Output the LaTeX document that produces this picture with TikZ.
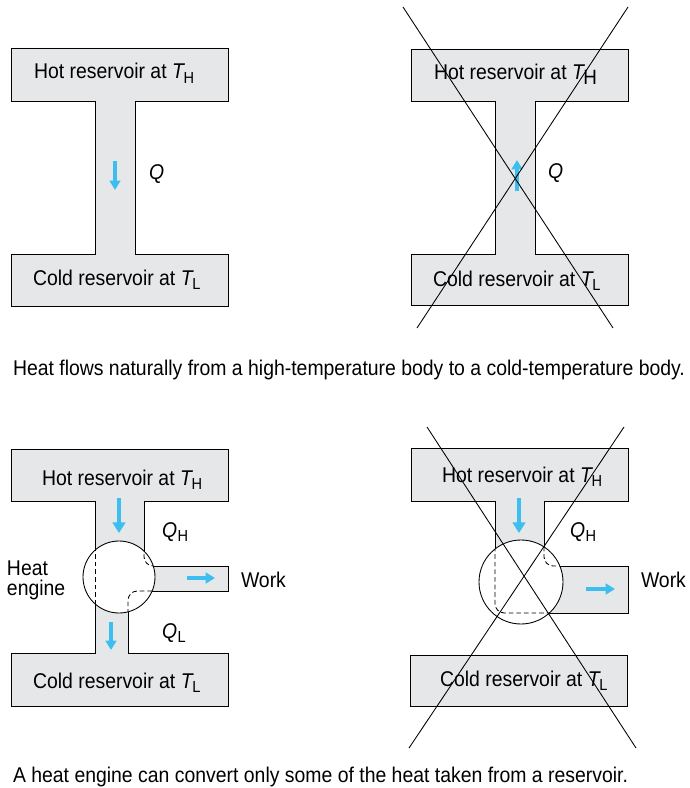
\documentclass[tikz,border=0pt]{standalone}
\usepackage{fontspec}
\setmainfont{Liberation Sans}[FakeStretch=0.91]
\usetikzlibrary{arrows.meta}
\definecolor{resgray}{RGB}{230,231,232}
\definecolor{flowblue}{RGB}{60,190,240}
% lowered subscript in upright type
\newcommand\lowsub[2][12pt]{\raisebox{-3.6pt}{\fontsize{#1}{#1}\selectfont #2}}
\newcommand\tsym[1]{{\itshape T}\kern-0.3pt\lowsub{#1}}
\newcommand\qsym[1]{{\itshape Q}\kern0.3pt\lowsub{#1}}

\begin{document}
\begin{tikzpicture}[x=0.75pt,y=-0.75pt,
  every node/.style={font=\fontsize{16pt}{19pt}\selectfont, inner sep=0pt, outer sep=0pt},
  label/.style={anchor=base west},
  tank/.style={fill=resgray, draw=black, line width=0.65pt, line join=miter},
  flow/.style={draw=flowblue, line width=3.2pt, -{Triangle[width=9.5pt,length=8pt]}},
  wflow/.style={draw=flowblue, line width=2.6pt, -{Triangle[width=8pt,length=7pt]}},
  cross/.style={draw=black, line width=0.65pt},
  engine/.style={draw=black, fill=white, line width=0.65pt},
  hidden/.style={draw=black, dash pattern=on 3.5pt off 2.2pt, line width=0.65pt, rounded corners=7pt}]
\useasboundingbox (0,0) rectangle (689,788);

% ---------- reservoirs joined by a channel ----------
\draw[tank] (11,48) -- (228,48) -- (228,101) -- (135,101) -- (135,254) -- (228,254)
  -- (228,306) -- (11,306) -- (11,254) -- (95,254) -- (95,101) -- (11,101) -- cycle;
\draw[tank] (411,49) -- (628,49) -- (628,101) -- (535,101) -- (535,254) -- (628,254)
  -- (628,305) -- (411,305) -- (411,254) -- (495,254) -- (495,101) -- (411,101) -- cycle;

% ---------- engine between the reservoirs ----------
\draw[tank] (11,449) -- (228,449) -- (228,501) -- (144,501) -- (144,566) -- (228,566)
  -- (228,591) -- (128,591) -- (128,653) -- (228,653) -- (228,706) -- (11,706)
  -- (11,653) -- (95,653) -- (95,501) -- (11,501) -- cycle;
\node[engine, circle, minimum size=54pt] (eng1) at (119,577) {};
\begin{scope}
  \clip (119,577) circle[radius=27pt];
  \draw[hidden] (95,501) -- (95,653);
  \draw[hidden] (144,501) -- (144,566) -- (228,566);
  \draw[hidden] (228,591) -- (128,591) -- (128,653);
\end{scope}

\draw[tank] (411,448) -- (628,448) -- (628,501) -- (544,501) -- (544,566) -- (628,566)
  -- (628,613) -- (495,613) -- (495,501) -- (411,501) -- cycle;
\draw[tank] (410,655) rectangle (627,706);
\node[engine, circle, minimum size=63pt] (eng2) at (521,582) {};
\begin{scope}
  \clip (521,582) circle[radius=31.5pt];
  \draw[hidden] (495,501) -- (495,613) -- (628,613);
  \draw[hidden] (544,501) -- (544,566) -- (628,566);
\end{scope}

% ---------- heat and work arrows ----------
\coordinate (a1s) at (115,161); \coordinate (a1e) at (115,190);
\coordinate (a2s) at (517,191); \coordinate (a2e) at (517,160);
\coordinate (a3s) at (119,498); \coordinate (a3e) at (119,533);
\coordinate (a4s) at (111,622); \coordinate (a4e) at (111,650);
\coordinate (a5s) at (187,578); \coordinate (a5e) at (215,578);
\coordinate (a6s) at (519,498); \coordinate (a6e) at (519,533);
\coordinate (a7s) at (586,589); \coordinate (a7e) at (615,589);
\draw[wflow] (a1s) -- (a1e);
\draw[wflow] (a2s) -- (a2e);
\draw[flow] (a3s) -- (a3e);
\draw[wflow] (a4s) -- (a4e);
\draw[wflow] (a5s) -- (a5e);
\draw[flow] (a6s) -- (a6e);
\draw[wflow] (a7s) -- (a7e);

% ---------- labels ----------
\node[label] (hot1) at (34,79) {Hot reservoir at \tsym{H}};
\node[label] (cold1) at (33,285) {Cold reservoir at \tsym{L}};
\node[label] (q1) at (149,180) {\itshape Q};

\node[label] (hot2) at (434,80) {Hot reservoir at {\itshape T}\kern-0.5pt\lowsub[15.5pt]{H}};
\node[label] (cold2) at (433,286) {Cold reservoir at \tsym{L}};
\node[label] (q2) at (548,178) {\itshape Q};

\node[label] (hot3) at (42,485) {Hot reservoir at \tsym{H}};
\node[label] (cold3) at (33,688) {Cold reservoir at \tsym{L}};
\node[label] (qh3) at (162,537) {\qsym{H}};
\node[label] (ql3) at (162,638) {\qsym{L}};
\node[anchor=north west, align=left, font=\fontsize{16pt}{15pt}\selectfont]
  (engname) at (7,561) {Heat\\engine};
\node[label] (work3) at (241,587) {Work};

\node[label] (hot4) at (442,482) {Hot reservoir at \tsym{H}};
\node[label] (cold4) at (440,686) {Cold reservoir at \tsym{L}};
\node[label] (qh4) at (570,537) {\qsym{H}};
\node[label] (work4) at (641,587) {Work};

\node[label] (cap1) at (13,375) {Heat flows naturally from a high-temperature body to a cold-temperature body.};
\node[label] (cap2) at (13,782) {A heat engine can convert only some of the heat taken from a reservoir.};

% ---------- crossed-out processes ----------
\coordinate (x1a) at (403,7);   \coordinate (x1b) at (613,328);
\coordinate (x2a) at (628,7);   \coordinate (x2b) at (417,328);
\coordinate (x3a) at (427,427); \coordinate (x3b) at (636,748);
\coordinate (x4a) at (624,427); \coordinate (x4b) at (409,748);
\draw[cross] (x1a) -- (x1b);
\draw[cross] (x2a) -- (x2b);
\draw[cross] (x3a) -- (x3b);
\draw[cross] (x4a) -- (x4b);
\end{tikzpicture}
\end{document}
